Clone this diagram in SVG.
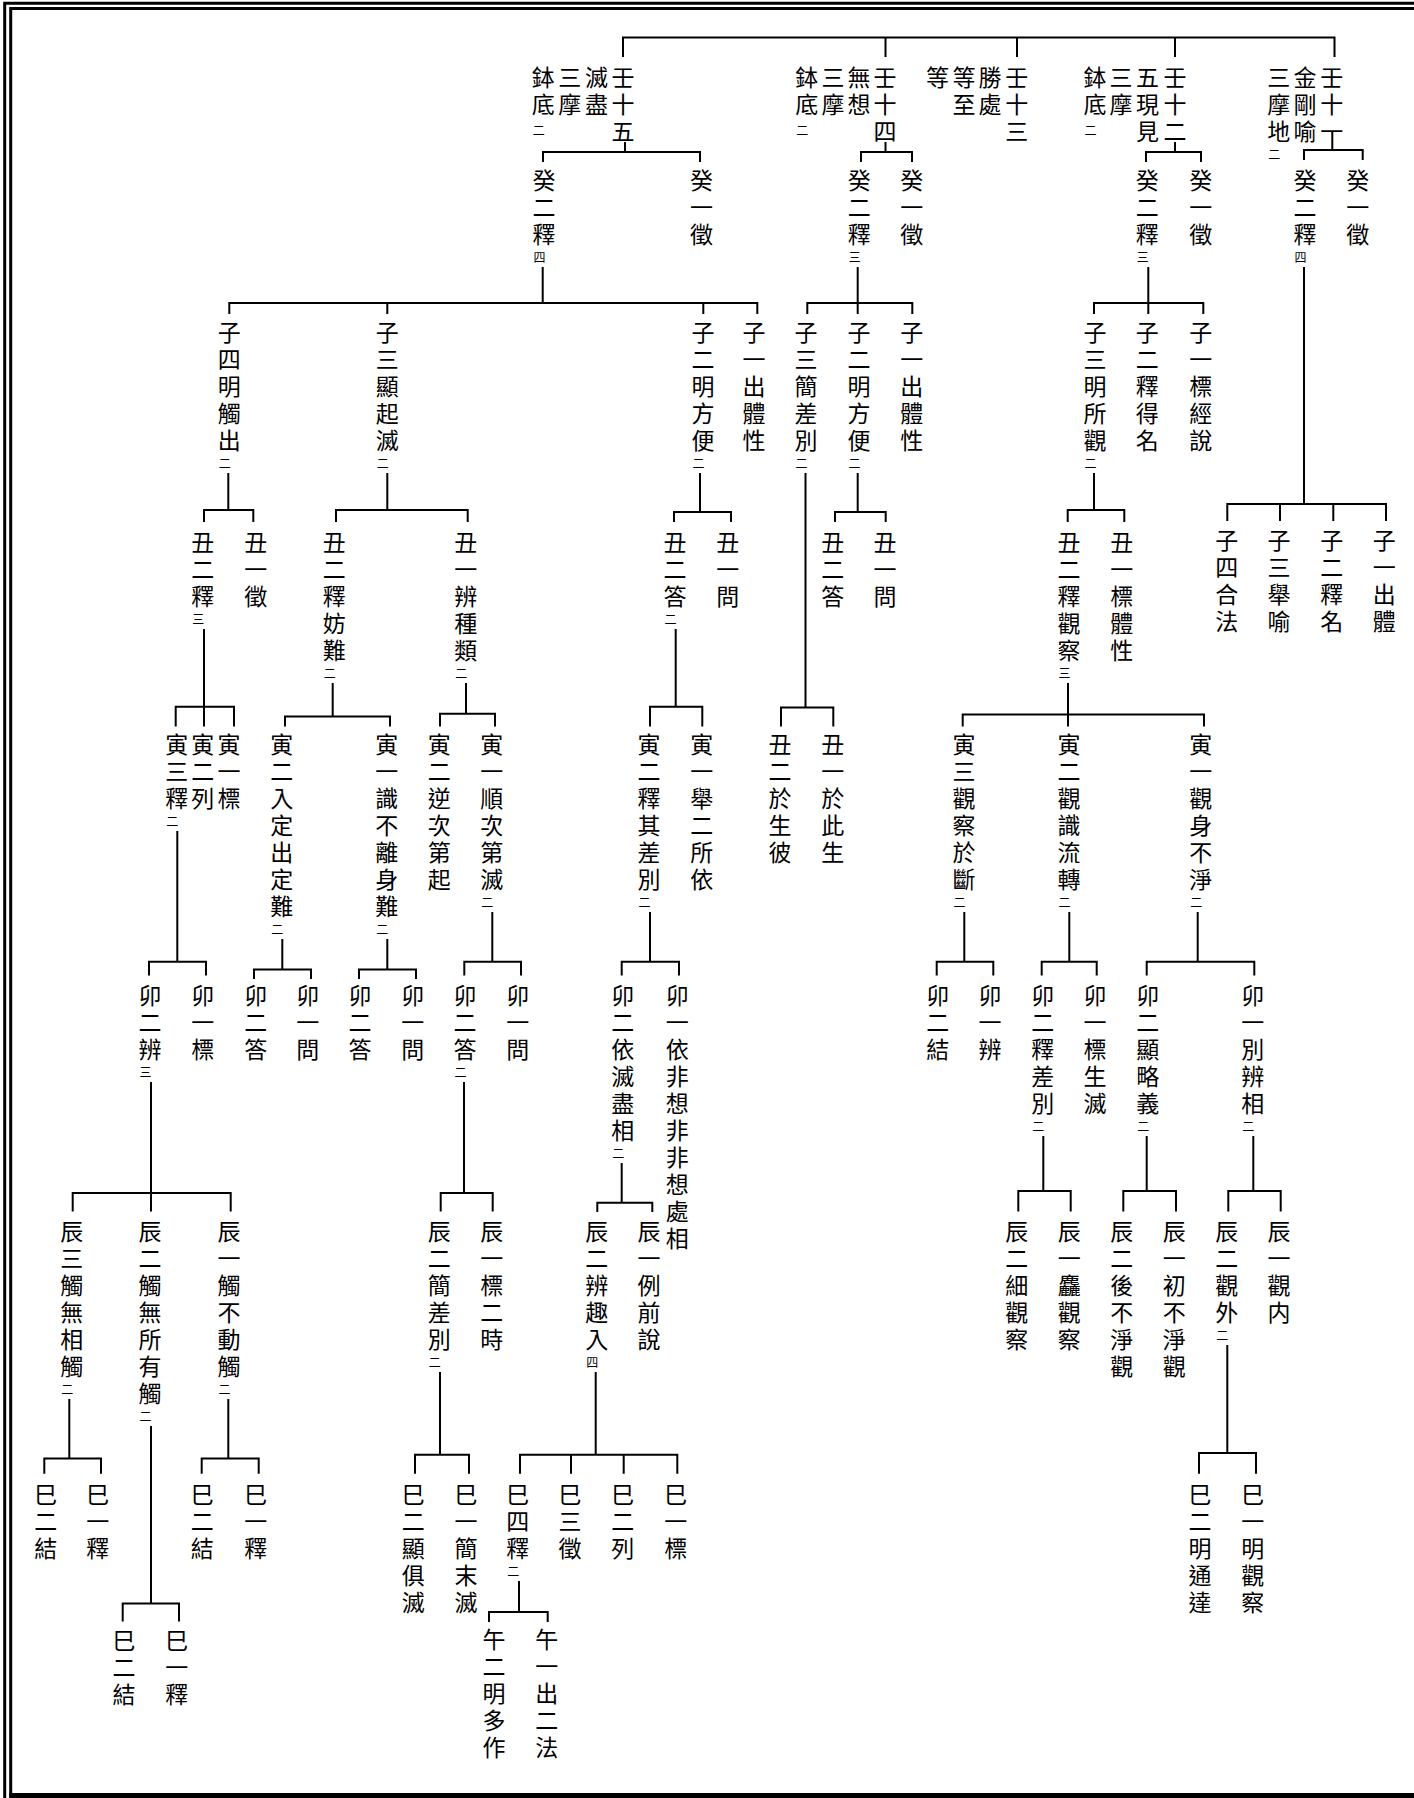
<svg xmlns="http://www.w3.org/2000/svg" width="1414" height="1798" viewBox="0 0 1414 1798">
<style>
.t{font-family:"Noto Sans CJK TC","Noto Sans CJK JP",sans-serif;font-size:23px;text-anchor:middle;fill:#000}
.s{font-size:12px}
.c{fill:none;stroke:#000;stroke-width:2}
.b{fill:none;stroke:#000;stroke-width:3}
</style>
<rect width="1414" height="1798" fill="#fff"/>
<g id="border" class="b">
<path d="M4.7 1798V3.2H1414"/>
<path d="M10.7 1798V8.5H1414"/>
<path d="M9.2 1795.5H1414" stroke-width="5"/>
</g>
<g id="connectors" class="c">
<path d="M623 57V37.5H1334.5V57M885.5 37.5V57M1017 37.5V57M1175 37.5V57"/>
<path d="M625 142V152M543 162V152H700V162"/>
<path d="M885.5 142V152M861 162V152H912V162"/>
<path d="M1175 142V152M1146 162V152H1201V162"/>
<path d="M1332.3 132V150M1304 160V150H1362.7V160"/>
<path d="M542.7 267V303M229.3 314V303H757.3V314M387.3 303V314M703.3 303V314"/>
<path d="M857.7 267V314M807.3 314V303H912.3V314"/>
<path d="M1148.3 267V314M1094 314V303H1203.3V314"/>
<path d="M1304 267V504M1227.3 521V504H1386V521M1280 504V521M1333.3 504V521"/>
<path d="M228.3 473V510M204 522V510H253.3V522"/>
<path d="M387.3 473V510M336 522V510H467.7V522"/>
<path d="M700 473V512M674 522V512H731V522"/>
<path d="M857.7 473V512M835 522V512H885.7V522"/>
<path d="M1094 473V510M1067.7 522V510H1124.3V522"/>
<path d="M805.5 473V707.5M781 726.5V707.5H833.3V726.5"/>
<path d="M204 629V726.5M175.7 726.5V706.7H234V726.5"/>
<path d="M332.7 683V716.6M285 726.5V716.6H390V726.5"/>
<path d="M466 683V713.8M440 726.5V713.8H495V726.5"/>
<path d="M675.7 629V706.7M650 726.5V706.7H702.3V726.5"/>
<path d="M1068 683V726.5M962.7 726.5V714.6H1204V726.5"/>
<path d="M177.3 831V961.7M149 975.5V961.7H206V975.5"/>
<path d="M282.3 939V969.6M254 979V969.6H311V979"/>
<path d="M387.3 939V969.6M359 979V969.6H416V979"/>
<path d="M492.3 912V961.7M464.3 975.5V961.7H521V975.5"/>
<path d="M650 912V961.7M621.7 975.5V961.7H679V975.5"/>
<path d="M964.3 912V961.7M936.7 975.5V961.7H993.3V975.5"/>
<path d="M1069.3 912V961.7M1041.7 975.5V961.7H1096.7V975.5"/>
<path d="M1197.7 912V961.7M1146.7 975.5V961.7H1254.3V975.5"/>
<path d="M151 1082V1211.4M72.7 1211.4V1193H230.7V1211.4"/>
<path d="M464 1082V1193M440.7 1211.4V1193H492.7V1211.4"/>
<path d="M621.7 1163V1202.8M597.3 1212V1202.8H652.3V1212"/>
<path d="M1043.3 1136V1191M1018.3 1211.4V1191H1070.7V1211.4"/>
<path d="M1146.7 1136V1191M1123.3 1211.4V1191H1176V1211.4"/>
<path d="M1253.3 1136V1191M1228.3 1211.4V1191H1280.7V1211.4"/>
<path d="M69.3 1399V1458.6M44.3 1473.8V1458.6H101V1473.8"/>
<path d="M151 1426V1603.5M122.7 1621.4V1603.5H179V1621.4"/>
<path d="M228.3 1399V1458.6M201.7 1473.8V1458.6H258.7V1473.8"/>
<path d="M440 1372V1454.8M415 1473.8V1454.8H469V1473.8"/>
<path d="M595.7 1372V1454.8M520 1473.8V1454.8H677.3V1473.8M571 1454.8V1473.8M623.7 1454.8V1473.8"/>
<path d="M1227.3 1345V1452.9M1199 1473.8V1452.9H1256V1473.8"/>
<path d="M519 1581V1612M489 1622V1612H547.7V1622"/>
</g>
<g id="n-ren15">
<text class="t" x="623 623 623" y="86.3 113.3 140.3">壬十五</text>
<text class="t" x="596.5 596.5" y="86.3 113.3">滅盡</text>
<text class="t" x="569.8 569.8" y="86.3 113.3">三摩</text>
<text class="t" x="543.3 543.3" y="86.3 113.3">鉢底<tspan class="s" x="538.8" y="134.5">二</tspan></text>
</g>
<g id="n-ren14">
<text class="t" x="885 885 885" y="86.3 113.3 140.3">壬十四</text>
<text class="t" x="859 859" y="86.3 113.3">無想</text>
<text class="t" x="833 833" y="86.3 113.3">三摩</text>
<text class="t" x="806.7 806.7" y="86.3 113.3">鉢底<tspan class="s" x="802.2" y="134.5">二</tspan></text>
</g>
<g id="n-ren13">
<text class="t" x="1016.7 1016.7 1016.7" y="86.3 113.3 140.3">壬十三</text>
<text class="t" x="990 990" y="86.3 113.3">勝處</text>
<text class="t" x="964 964" y="86.3 113.3">等至</text>
<text class="t" x="937.5" y="86.3">等</text>
</g>
<g id="n-ren12">
<text class="t" x="1175 1175 1175" y="86.3 113.3 140.3">壬十二</text>
<text class="t" x="1147.5 1147.5 1147.5" y="86.3 113.3 140.3">五現見</text>
<text class="t" x="1121 1121" y="86.3 113.3">三摩</text>
<text class="t" x="1095 1095" y="86.3 113.3">鉢底<tspan class="s" x="1090.5" y="134.5">二</tspan></text>
</g>
<g id="n-ren11">
<text class="t" x="1331.7 1331.7 1331.7" y="86.3 113.3 140.3">壬十一</text>
<text class="t" x="1305 1305 1305" y="86.3 113.3 140.3">金剛喻</text>
<text class="t" x="1278.7 1278.7 1278.7" y="86.3 113.3 140.3">三摩地<tspan class="s" x="1274.2" y="158.5">二</tspan></text>
</g>

<g id="n-15-gui2"><text class="t" x="544 544 544" y="189.3 216.3 243.3">癸二釋<tspan class="s" x="539.5" y="261.5">四</tspan></text></g>
<g id="n-15-gui1"><text class="t" x="701.5 701.5 701.5" y="189.3 216.3 243.3">癸一徵</text></g>
<g id="n-14-gui2"><text class="t" x="859.3 859.3 859.3" y="189.3 216.3 243.3">癸二釋<tspan class="s" x="854.8" y="261.5">三</tspan></text></g>
<g id="n-14-gui1"><text class="t" x="911.7 911.7 911.7" y="189.3 216.3 243.3">癸一徵</text></g>
<g id="n-12-gui2"><text class="t" x="1147.3 1147.3 1147.3" y="189.3 216.3 243.3">癸二釋<tspan class="s" x="1142.8" y="261.5">三</tspan></text></g>
<g id="n-12-gui1"><text class="t" x="1200.7 1200.7 1200.7" y="189.3 216.3 243.3">癸一徵</text></g>
<g id="n-11-gui2"><text class="t" x="1305 1305 1305" y="189.3 216.3 243.3">癸二釋<tspan class="s" x="1300.5" y="261.5">四</tspan></text></g>
<g id="n-11-gui1"><text class="t" x="1357.7 1357.7 1357.7" y="189.3 216.3 243.3">癸一徵</text></g>

<g id="n-15-zi4"><text class="t" x="229.3 229.3 229.3 229.3 229.3" y="341.3 368.3 395.3 422.3 449.3">子四明觸出<tspan class="s" x="224.8" y="467.5">二</tspan></text></g>
<g id="n-15-zi3"><text class="t" x="387.3 387.3 387.3 387.3 387.3" y="341.3 368.3 395.3 422.3 449.3">子三顯起滅<tspan class="s" x="382.8" y="467.5">二</tspan></text></g>
<g id="n-15-zi2"><text class="t" x="703 703 703 703 703" y="341.3 368.3 395.3 422.3 449.3">子二明方便<tspan class="s" x="698.5" y="467.5">二</tspan></text></g>
<g id="n-15-zi1"><text class="t" x="754 754 754 754 754" y="341.3 368.3 395.3 422.3 449.3">子一出體性</text></g>
<g id="n-14-zi3"><text class="t" x="806 806 806 806 806" y="341.3 368.3 395.3 422.3 449.3">子三簡差別<tspan class="s" x="801.5" y="467.5">二</tspan></text></g>
<g id="n-14-zi2"><text class="t" x="859 859 859 859 859" y="341.3 368.3 395.3 422.3 449.3">子二明方便<tspan class="s" x="854.5" y="467.5">二</tspan></text></g>
<g id="n-14-zi1"><text class="t" x="911.7 911.7 911.7 911.7 911.7" y="341.3 368.3 395.3 422.3 449.3">子一出體性</text></g>
<g id="n-12-zi3"><text class="t" x="1095 1095 1095 1095 1095" y="341.3 368.3 395.3 422.3 449.3">子三明所觀<tspan class="s" x="1090.5" y="467.5">二</tspan></text></g>
<g id="n-12-zi2"><text class="t" x="1147.3 1147.3 1147.3 1147.3 1147.3" y="341.3 368.3 395.3 422.3 449.3">子二釋得名</text></g>
<g id="n-12-zi1"><text class="t" x="1200.7 1200.7 1200.7 1200.7 1200.7" y="341.3 368.3 395.3 422.3 449.3">子一標經說</text></g>
<g id="n-11-zi4"><text class="t" x="1226.7 1226.7 1226.7 1226.7" y="549.3 576.3 603.3 630.3">子四合法</text></g>
<g id="n-11-zi3"><text class="t" x="1279 1279 1279 1279" y="549.3 576.3 603.3 630.3">子三舉喻</text></g>
<g id="n-11-zi2"><text class="t" x="1331.7 1331.7 1331.7 1331.7" y="549.3 576.3 603.3 630.3">子二釋名</text></g>
<g id="n-11-zi1"><text class="t" x="1384.3 1384.3 1384.3 1384.3" y="549.3 576.3 603.3 630.3">子一出體</text></g>

<g id="n-chou-a2"><text class="t" x="202.7 202.7 202.7" y="551.3 578.3 605.3">丑二釋<tspan class="s" x="198.2" y="623.5">三</tspan></text></g>
<g id="n-chou-a1"><text class="t" x="255.7 255.7 255.7" y="551.3 578.3 605.3">丑一徵</text></g>
<g id="n-chou-b2"><text class="t" x="334.3 334.3 334.3 334.3 334.3" y="551.3 578.3 605.3 632.3 659.3">丑二釋妨難<tspan class="s" x="329.8" y="677.5">二</tspan></text></g>
<g id="n-chou-b1"><text class="t" x="465.7 465.7 465.7 465.7 465.7" y="551.3 578.3 605.3 632.3 659.3">丑一辨種類<tspan class="s" x="461.2" y="677.5">二</tspan></text></g>
<g id="n-chou-c2"><text class="t" x="675 675 675" y="551.3 578.3 605.3">丑二答<tspan class="s" x="670.5" y="623.5">二</tspan></text></g>
<g id="n-chou-c1"><text class="t" x="727.7 727.7 727.7" y="551.3 578.3 605.3">丑一問</text></g>
<g id="n-chou-d2"><text class="t" x="832.7 832.7 832.7" y="551.3 578.3 605.3">丑二答</text></g>
<g id="n-chou-d1"><text class="t" x="885 885 885" y="551.3 578.3 605.3">丑一問</text></g>
<g id="n-chou-e2"><text class="t" x="1069 1069 1069 1069 1069" y="551.3 578.3 605.3 632.3 659.3">丑二釋觀察<tspan class="s" x="1064.5" y="677.5">三</tspan></text></g>
<g id="n-chou-e1"><text class="t" x="1121.7 1121.7 1121.7 1121.7 1121.7" y="551.3 578.3 605.3 632.3 659.3">丑一標體性</text></g>
<g id="n-chou-f2"><text class="t" x="780 780 780 780 780" y="753.3 780.3 807.3 834.3 861.3">丑二於生彼</text></g>
<g id="n-chou-f1"><text class="t" x="832.7 832.7 832.7 832.7 832.7" y="753.3 780.3 807.3 834.3 861.3">丑一於此生</text></g>

<g id="n-yin-a3"><text class="t" x="176.7 176.7 176.7" y="753.3 780.3 807.3">寅三釋<tspan class="s" x="172.2" y="825.5">二</tspan></text></g>
<g id="n-yin-a2"><text class="t" x="202.7 202.7 202.7" y="753.3 780.3 807.3">寅二列</text></g>
<g id="n-yin-a1"><text class="t" x="229 229 229" y="753.3 780.3 807.3">寅一標</text></g>
<g id="n-yin-b2"><text class="t" x="281.7 281.7 281.7 281.7 281.7 281.7 281.7" y="753.3 780.3 807.3 834.3 861.3 888.3 915.3">寅二入定出定難<tspan class="s" x="277.2" y="933.5">二</tspan></text></g>
<g id="n-yin-b1"><text class="t" x="386.7 386.7 386.7 386.7 386.7 386.7 386.7" y="753.3 780.3 807.3 834.3 861.3 888.3 915.3">寅一識不離身難<tspan class="s" x="382.2" y="933.5">二</tspan></text></g>
<g id="n-yin-c2"><text class="t" x="439.3 439.3 439.3 439.3 439.3 439.3" y="753.3 780.3 807.3 834.3 861.3 888.3">寅二逆次第起</text></g>
<g id="n-yin-c1"><text class="t" x="491.7 491.7 491.7 491.7 491.7 491.7" y="753.3 780.3 807.3 834.3 861.3 888.3">寅一順次第滅<tspan class="s" x="487.2" y="906.5">二</tspan></text></g>
<g id="n-yin-d2"><text class="t" x="649 649 649 649 649 649" y="753.3 780.3 807.3 834.3 861.3 888.3">寅二釋其差別<tspan class="s" x="644.5" y="906.5">二</tspan></text></g>
<g id="n-yin-d1"><text class="t" x="701.7 701.7 701.7 701.7 701.7 701.7" y="753.3 780.3 807.3 834.3 861.3 888.3">寅一舉二所依</text></g>
<g id="n-yin-e3"><text class="t" x="964 964 964 964 964 964" y="753.3 780.3 807.3 834.3 861.3 888.3">寅三觀察於斷<tspan class="s" x="959.5" y="906.5">二</tspan></text></g>
<g id="n-yin-e2"><text class="t" x="1069 1069 1069 1069 1069 1069" y="753.3 780.3 807.3 834.3 861.3 888.3">寅二觀識流轉<tspan class="s" x="1064.5" y="906.5">二</tspan></text></g>
<g id="n-yin-e1"><text class="t" x="1200.7 1200.7 1200.7 1200.7 1200.7 1200.7" y="753.3 780.3 807.3 834.3 861.3 888.3">寅一觀身不淨<tspan class="s" x="1196.2" y="906.5">二</tspan></text></g>

<g id="n-mao-a2"><text class="t" x="150 150 150" y="1004.3 1031.3 1058.3">卯二辨<tspan class="s" x="145.5" y="1076.5">三</tspan></text></g>
<g id="n-mao-a1"><text class="t" x="202.7 202.7 202.7" y="1004.3 1031.3 1058.3">卯一標</text></g>
<g id="n-mao-b2"><text class="t" x="255.7 255.7 255.7" y="1004.3 1031.3 1058.3">卯二答</text></g>
<g id="n-mao-b1"><text class="t" x="307.7 307.7 307.7" y="1004.3 1031.3 1058.3">卯一問</text></g>
<g id="n-mao-c2"><text class="t" x="360 360 360" y="1004.3 1031.3 1058.3">卯二答</text></g>
<g id="n-mao-c1"><text class="t" x="412.7 412.7 412.7" y="1004.3 1031.3 1058.3">卯一問</text></g>
<g id="n-mao-d2"><text class="t" x="465 465 465" y="1004.3 1031.3 1058.3">卯二答<tspan class="s" x="460.5" y="1076.5">二</tspan></text></g>
<g id="n-mao-d1"><text class="t" x="517.7 517.7 517.7" y="1004.3 1031.3 1058.3">卯一問</text></g>
<g id="n-mao-e2"><text class="t" x="622.7 622.7 622.7 622.7 622.7 622.7" y="1004.3 1031.3 1058.3 1085.3 1112.3 1139.3">卯二依滅盡相<tspan class="s" x="618.2" y="1157.5">二</tspan></text></g>
<g id="n-mao-e1"><text class="t" x="677.3 677.3 677.3 677.3 677.3 677.3 677.3 677.3 677.3 677.3" y="1004.3 1031.3 1058.3 1085.3 1112.3 1139.3 1166.3 1193.3 1220.3 1247.3">卯一依非想非非想處相</text></g>
<g id="n-mao-f2"><text class="t" x="937.7 937.7 937.7" y="1004.3 1031.3 1058.3">卯二結</text></g>
<g id="n-mao-f1"><text class="t" x="990 990 990" y="1004.3 1031.3 1058.3">卯一辨</text></g>
<g id="n-mao-g2"><text class="t" x="1042.7 1042.7 1042.7 1042.7 1042.7" y="1004.3 1031.3 1058.3 1085.3 1112.3">卯二釋差別<tspan class="s" x="1038.2" y="1130.5">二</tspan></text></g>
<g id="n-mao-g1"><text class="t" x="1095 1095 1095 1095 1095" y="1004.3 1031.3 1058.3 1085.3 1112.3">卯一標生滅</text></g>
<g id="n-mao-h2"><text class="t" x="1147.7 1147.7 1147.7 1147.7 1147.7" y="1004.3 1031.3 1058.3 1085.3 1112.3">卯二顯略義<tspan class="s" x="1143.2" y="1130.5">二</tspan></text></g>
<g id="n-mao-h1"><text class="t" x="1252.7 1252.7 1252.7 1252.7 1252.7" y="1004.3 1031.3 1058.3 1085.3 1112.3">卯一別辨相<tspan class="s" x="1248.2" y="1130.5">二</tspan></text></g>

<g id="n-chen-a3"><text class="t" x="71.7 71.7 71.7 71.7 71.7 71.7" y="1240.3 1267.3 1294.3 1321.3 1348.3 1375.3">辰三觸無相觸<tspan class="s" x="67.2" y="1393.5">二</tspan></text></g>
<g id="n-chen-a2"><text class="t" x="150 150 150 150 150 150 150" y="1240.3 1267.3 1294.3 1321.3 1348.3 1375.3 1402.3">辰二觸無所有觸<tspan class="s" x="145.5" y="1420.5">二</tspan></text></g>
<g id="n-chen-a1"><text class="t" x="229 229 229 229 229 229" y="1240.3 1267.3 1294.3 1321.3 1348.3 1375.3">辰一觸不動觸<tspan class="s" x="224.5" y="1393.5">二</tspan></text></g>
<g id="n-chen-b2"><text class="t" x="439.3 439.3 439.3 439.3 439.3" y="1240.3 1267.3 1294.3 1321.3 1348.3">辰二簡差別<tspan class="s" x="434.8" y="1366.5">二</tspan></text></g>
<g id="n-chen-b1"><text class="t" x="491.7 491.7 491.7 491.7 491.7" y="1240.3 1267.3 1294.3 1321.3 1348.3">辰一標二時</text></g>
<g id="n-chen-c2"><text class="t" x="596.7 596.7 596.7 596.7 596.7" y="1240.3 1267.3 1294.3 1321.3 1348.3">辰二辨趣入<tspan class="s" x="592.2" y="1366.5">四</tspan></text></g>
<g id="n-chen-c1"><text class="t" x="649 649 649 649 649" y="1240.3 1267.3 1294.3 1321.3 1348.3">辰一例前說</text></g>
<g id="n-chen-d2"><text class="t" x="1016.7 1016.7 1016.7 1016.7 1016.7" y="1240.3 1267.3 1294.3 1321.3 1348.3">辰二細觀察</text></g>
<g id="n-chen-d1"><text class="t" x="1069.3 1069.3 1069.3 1069.3 1069.3" y="1240.3 1267.3 1294.3 1321.3 1348.3">辰一麤觀察</text></g>
<g id="n-chen-e2"><text class="t" x="1121.7 1121.7 1121.7 1121.7 1121.7 1121.7" y="1240.3 1267.3 1294.3 1321.3 1348.3 1375.3">辰二後不淨觀</text></g>
<g id="n-chen-e1"><text class="t" x="1174.3 1174.3 1174.3 1174.3 1174.3 1174.3" y="1240.3 1267.3 1294.3 1321.3 1348.3 1375.3">辰一初不淨觀</text></g>
<g id="n-chen-f2"><text class="t" x="1226.7 1226.7 1226.7 1226.7" y="1240.3 1267.3 1294.3 1321.3">辰二觀外<tspan class="s" x="1222.2" y="1339.5">二</tspan></text></g>
<g id="n-chen-f1"><text class="t" x="1279 1279 1279 1279" y="1240.3 1267.3 1294.3 1321.3">辰一觀内</text></g>

<g id="n-si-a2"><text class="t" x="45.7 45.7 45.7" y="1503.3 1530.3 1557.3">巳二結</text></g>
<g id="n-si-a1"><text class="t" x="97.7 97.7 97.7" y="1503.3 1530.3 1557.3">巳一釋</text></g>
<g id="n-si-b2"><text class="t" x="124 124 124" y="1649.3 1676.3 1703.3">巳二結</text></g>
<g id="n-si-b1"><text class="t" x="176.7 176.7 176.7" y="1649.3 1676.3 1703.3">巳一釋</text></g>
<g id="n-si-c2"><text class="t" x="202.3 202.3 202.3" y="1503.3 1530.3 1557.3">巳二結</text></g>
<g id="n-si-c1"><text class="t" x="255.7 255.7 255.7" y="1503.3 1530.3 1557.3">巳一釋</text></g>
<g id="n-si-d2"><text class="t" x="413.3 413.3 413.3 413.3 413.3" y="1503.3 1530.3 1557.3 1584.3 1611.3">巳二顯俱滅</text></g>
<g id="n-si-d1"><text class="t" x="466 466 466 466 466" y="1503.3 1530.3 1557.3 1584.3 1611.3">巳一簡末滅</text></g>
<g id="n-si-e4"><text class="t" x="517.7 517.7 517.7" y="1503.3 1530.3 1557.3">巳四釋<tspan class="s" x="513.2" y="1575.5">二</tspan></text></g>
<g id="n-si-e3"><text class="t" x="570 570 570" y="1503.3 1530.3 1557.3">巳三徵</text></g>
<g id="n-si-e2"><text class="t" x="622.7 622.7 622.7" y="1503.3 1530.3 1557.3">巳二列</text></g>
<g id="n-si-e1"><text class="t" x="675.7 675.7 675.7" y="1503.3 1530.3 1557.3">巳一標</text></g>
<g id="n-si-f2"><text class="t" x="1200 1200 1200 1200 1200" y="1503.3 1530.3 1557.3 1584.3 1611.3">巳二明通達</text></g>
<g id="n-si-f1"><text class="t" x="1252.7 1252.7 1252.7 1252.7 1252.7" y="1503.3 1530.3 1557.3 1584.3 1611.3">巳一明觀察</text></g>

<g id="n-wu-2"><text class="t" x="494 494 494 494 494" y="1648.3 1675.3 1702.3 1729.3 1756.3">午二明多作</text></g>
<g id="n-wu-1"><text class="t" x="546.7 546.7 546.7 546.7 546.7" y="1648.3 1675.3 1702.3 1729.3 1756.3">午一出二法</text></g>
</svg>
